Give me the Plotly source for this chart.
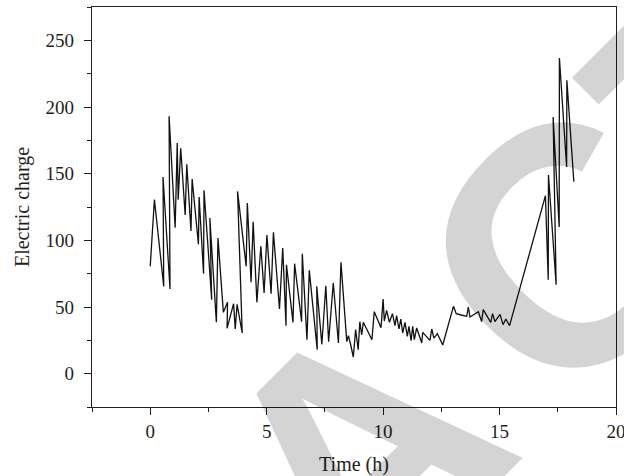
import plotly.graph_objects as go

# Electric charge readings over time
time_h = [
    0.00, 0.18, 0.58, 0.55, 0.85, 0.81, 1.07, 1.16, 1.20, 1.31,
    1.50, 1.57, 1.75, 1.80, 2.07, 2.10, 2.29, 2.31, 2.64, 2.56,
    2.84, 2.91, 3.14, 3.32, 3.30, 3.58, 3.65, 3.73, 3.95, 3.75,
    4.12, 4.17, 4.33, 4.42, 4.58, 4.75, 4.89, 5.01, 5.19, 5.29,
    5.55, 5.69, 5.83, 5.85, 6.13, 6.20, 6.50, 6.53, 6.73, 6.83,
    7.17, 7.15, 7.37, 7.54, 7.66, 7.86, 8.08, 8.19, 8.44, 8.51,
    8.61, 8.72, 8.82, 8.93, 9.00, 9.08, 9.15, 9.32, 9.52, 9.62,
    9.91, 10.00, 10.05, 10.15, 10.27, 10.40, 10.51, 10.58, 10.68, 10.76,
    10.84, 10.94, 11.04, 11.11, 11.20, 11.27, 11.34, 11.44, 11.66, 11.70,
    12.01, 12.09, 12.18, 12.33, 12.56, 13.02, 13.14, 13.35, 13.59, 13.66,
    13.73, 14.09, 14.23, 14.30, 14.62, 14.70, 14.80, 15.02, 15.15, 15.27,
    15.43, 16.97, 17.09, 17.10, 17.43, 17.30, 17.56, 17.57, 17.88, 17.89,
    18.19,
]
charge = [
    80.5, 130.5, 65.5, 147.5, 63.5, 193, 109.5, 173, 130.5, 169,
    119, 157, 107, 146, 97, 132.5, 75, 137.5, 55.5, 116.8,
    38.5, 101.8, 46, 53.5, 34, 52.5, 33.5, 52, 30.5, 136.7,
    80.5, 128, 68.5, 114, 53.5, 95.5, 60.5, 104, 60, 106,
    48.5, 94.3, 36, 81.7, 38.5, 82.5, 39, 90, 25.5, 77.5,
    18, 65.5, 22, 66, 24, 68, 23, 83.5, 24, 28.5,
    21.5, 12.5, 33, 18, 39, 29, 38.5, 33, 25.5, 46.5,
    34.5, 56, 39.5, 47.5, 38.5, 45, 36, 43.5, 33.5, 41,
    30.5, 38.5, 28, 35.5, 24.75, 35.5, 25.5, 34.3, 23, 31,
    25, 33.5, 26.7, 30, 21.5, 50.5, 45, 44, 43, 50,
    42.5, 46.5, 39, 48, 38.5, 45, 39, 44.5, 36.75, 41,
    36, 133.5, 70.5, 149, 66.75, 192.5, 110, 236.75, 155, 220,
    144,
]

x_ticks = [0, 5, 10, 15, 20]
y_ticks = [0, 50, 100, 150, 200, 250]

serif = "Liberation Serif, Times New Roman, serif"
ink = "#231f20"

fig = go.Figure(
    go.Scatter(
        x=time_h,
        y=charge,
        mode="lines",
        line=dict(color="#111111", width=1.3),
        showlegend=False,
    )
)

axis_common = dict(
    showline=True,
    mirror=True,
    linecolor=ink,
    linewidth=1.3,
    showgrid=False,
    zeroline=False,
    ticks="outside",
    ticklen=7,
    tickwidth=1.2,
    tickcolor=ink,
    tickfont=dict(family=serif, size=19, color=ink),
    ticklabeloverflow="allow",
    automargin=False,
)

fig.update_xaxes(
    range=[-2.5, 20],
    tickvals=x_ticks,
    ticktext=[str(v) for v in x_ticks],
    minor=dict(dtick=2.5, tick0=0, ticks="outside", ticklen=4, tickwidth=1.2, tickcolor=ink),
    title=dict(text="Time (h)", font=dict(family=serif, size=20, color=ink), standoff=17),
    **axis_common,
)
fig.update_yaxes(
    range=[-25, 275],
    tickvals=y_ticks,
    ticktext=[str(v) for v in y_ticks],
    ticklabelstandoff=6,
    minor=dict(dtick=25, tick0=0, ticks="outside", ticklen=4, tickwidth=1.2, tickcolor=ink),
    title=dict(text="Electric charge", font=dict(family=serif, size=20, color=ink), standoff=10),
    **axis_common,
)

# Diagonal retraction stamp across the figure (set in two pieces for wider spacing)
stamp_font = dict(family="Liberation Sans, Arial, sans-serif", size=340, weight="bold",
                  color="rgba(0,0,0,0.17)")
for piece, px, py in [("RETRA", -0.115, -0.9375), ("CTED", 1.36, 0.995)]:
    fig.add_annotation(
        text=piece,
        xref="paper",
        yref="paper",
        x=px,
        y=py,
        showarrow=False,
        textangle=-45,
        font=stamp_font,
        xanchor="center",
        yanchor="middle",
    )

fig.update_layout(
    width=624,
    height=476,
    margin=dict(l=92, r=8, t=7, b=69),
    paper_bgcolor="white",
    plot_bgcolor="white",
)

fig.write_html("out.html")
